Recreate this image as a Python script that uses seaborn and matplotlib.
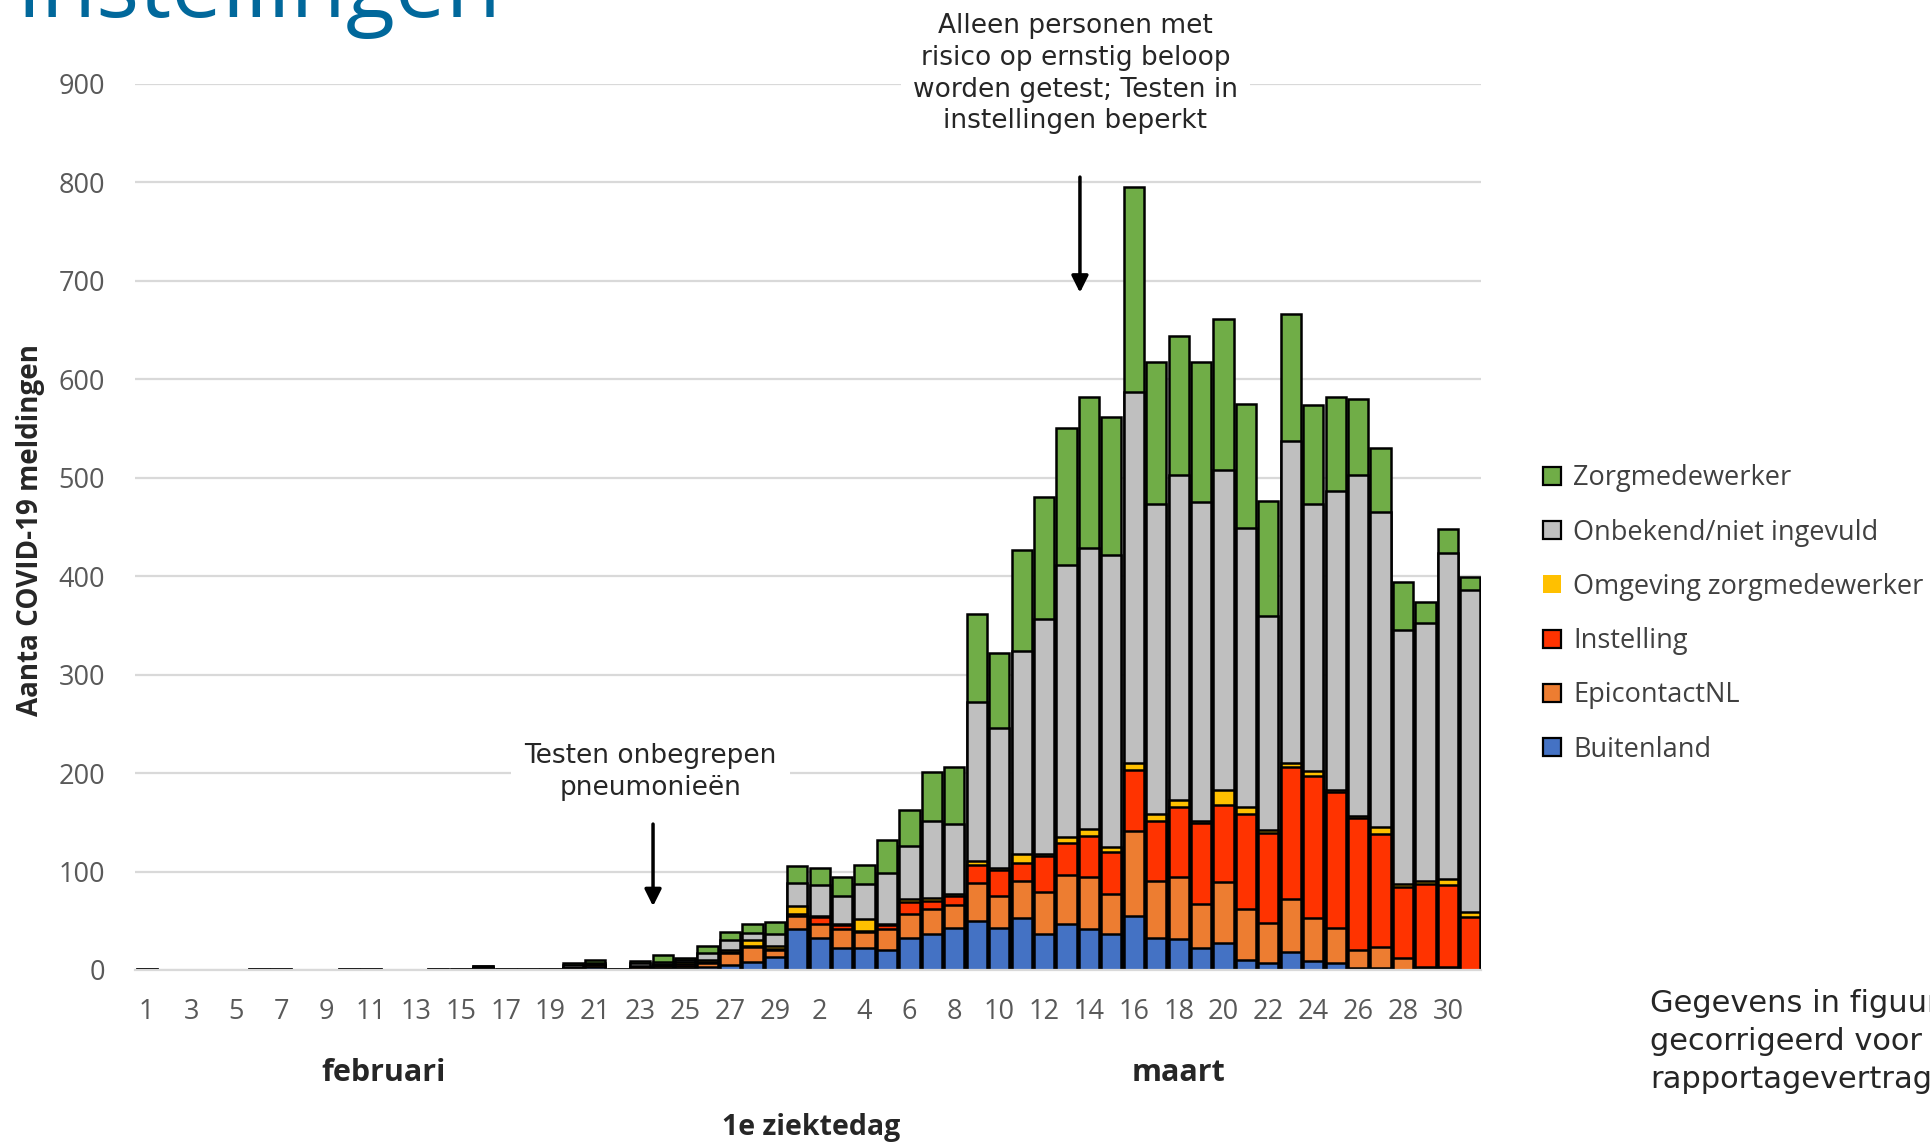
import numpy as np
import pandas as pd
import matplotlib
matplotlib.use("Agg")
import matplotlib.pyplot as plt
import seaborn as sns
from matplotlib.patches import Patch

# ---------------- data ----------------
feb_days = [str(d) for d in range(1, 30)]
mar_days = [str(d) for d in range(1, 32)]
day_labels = feb_days + mar_days

buitenland = [0,0,0,0,0, 0,0,0,0,0, 0,0,0,0,0, 1,0,0,0,0, 3,0,1,2,2, 3,5,8,13,
              42,32,22,22,20, 33,37,43,50,43, 53,37,47,42,37, 55,33,31,22,27,
              10,7,18,9,7, 2,2,0,1,1, 0]
epicontact = [0,0,0,0,0, 0,0,0,0,0, 0,0,0,0,0, 1,0,0,0,2, 2,0,2,2,2, 4,12,15,7,
              13,15,20,17,22, 24,25,23,38,32, 37,42,49,52,40, 86,57,63,45,62,
              52,41,54,44,36, 18,21,12,2,2, 0]
instelling = [0,0,0,0,0, 0,0,0,0,0, 0,0,0,0,0, 0,0,0,0,0, 0,0,0,1,2, 1,1,1,1,
              2,7,4,1,4, 12,8,9,19,27, 19,37,33,42,43, 62,61,72,82,79,
              96,91,134,144,138, 134,115,72,84,83, 54]
omgeving = [0,0,0,0,0, 0,0,0,0,0, 0,0,0,0,0, 0,0,0,0,0, 0,0,1,1,2, 2,2,6,3,
            8,1,1,12,1, 3,3,2,4,2, 9,2,6,7,5, 7,7,7,2,15,
            8,3,4,5,2, 2,7,3,3,6, 5]
onbekend = [1,0,0,0,0, 1,1,0,0,1, 1,0,0,1,1, 2,1,1,1,3, 2,1,3,2,2, 7,10,8,13,
            23,31,28,35,52, 54,78,71,161,142, 206,238,276,286,296, 377,315,330,324,325,
            283,217,327,271,303, 347,320,258,262,331, 327]
zorgmedewerker = [0,0,0,0,0, 0,0,0,0,0, 0,0,0,0,0, 0,0,0,0,2, 3,0,2,7,2, 7,9,9,12,
                  18,18,19,20,33, 36,50,58,90,76, 102,124,139,153,141, 208,144,141,142,153,
                  126,117,129,101,96, 77,65,49,22,25, 13]

series_names = ["Buitenland", "EpicontactNL", "Instelling",
                "Omgeving zorgmedewerker", "Onbekend/niet ingevuld", "Zorgmedewerker"]
series_values = [buitenland, epicontact, instelling, omgeving, onbekend, zorgmedewerker]
series_colors = ["#4472C4", "#ED7D31", "#FF3300", "#FFC000", "#BFBFBF", "#70AD47"]

# ---------------- figure ----------------
W, H = 1931, 1142
fig = plt.figure(figsize=(W / 100, H / 100), dpi=100)
sns.set_style("white")
plt.rcParams["font.family"] = ["Open Sans", "DejaVu Sans"]

def fx(px):
    return px / W

def fy(py):
    return 1 - py / H

ax = fig.add_axes([fx(135.5), fy(970), fx(1481.5) - fx(135.5), fy(83.7) - fy(970)])

df = pd.DataFrame({n: v for n, v in zip(series_names, series_values)})
df["pos"] = np.arange(len(df))
cum = df[series_names].cumsum(axis=1)

# draw cumulative layers from top to bottom (gives a stacked look)
for name, col in reversed(list(zip(series_names, series_colors))):
    sns.barplot(x=df["pos"], y=cum[name], color=col, saturation=1, width=0.9,
                edgecolor="black", linewidth=1.8, errorbar=None, ax=ax)

for p in ax.patches:
    if p.get_height() <= 0:
        p.set_visible(False)

ax.set_xlim(-0.5, len(df) - 0.5)
ax.set_ylim(0, 900)
ax.set_yticks(np.arange(0, 901, 100))
ax.set_axisbelow(True)
ax.yaxis.grid(True, color="#D9D9D9", linewidth=1.6)
ax.xaxis.grid(False)
for s in ["left", "right", "top"]:
    ax.spines[s].set_visible(False)
ax.spines["bottom"].set_color("#D9D9D9")
ax.spines["bottom"].set_linewidth(1.6)

tick_pos = list(range(0, 29, 2)) + list(range(30, 60, 2))
ax.set_xticks(tick_pos)
ax.set_xticklabels([day_labels[i] for i in tick_pos])
ax.set_xticks(np.arange(-0.5, len(df), 1.0), minor=True)
ax.tick_params(axis="x", which="major", length=0, pad=20, labelsize=19.5, labelcolor="#595959")
ax.tick_params(axis="x", which="minor", length=11, width=1.6, color="#D9D9D9")
ax.tick_params(axis="y", length=0, pad=22, labelsize=19.5, labelcolor="#595959")
ax.set_xlabel("")
ax.set_ylabel("")

# annotations
ax.text(41.4, 910, "Alleen personen met\nrisico op ernstig beloop\nworden getest; Testen in\ninstellingen beperkt",
        ha="center", va="center", fontsize=19, family="DejaVu Sans", linespacing=1.28,
        clip_on=False, zorder=5,
        bbox=dict(boxstyle="square,pad=0.45", facecolor="white", edgecolor="none"))
ax.annotate("", xy=(41.6, 685), xytext=(41.6, 808),
            arrowprops=dict(arrowstyle="-|>", color="black", lw=2.5, mutation_scale=25))
ax.text(22.45, 201, "Testen onbegrepen\npneumonieën",
        ha="center", va="center", fontsize=19, family="DejaVu Sans", linespacing=1.28,
        zorder=5, bbox=dict(boxstyle="square,pad=0.5", facecolor="white", edgecolor="none"))
ax.annotate("", xy=(22.57, 62), xytext=(22.57, 151),
            arrowprops=dict(arrowstyle="-|>", color="black", lw=2.5, mutation_scale=25))

# legend
handles = []
for name, col in reversed(list(zip(series_names, series_colors))):
    ec = "none" if name == "Omgeving zorgmedewerker" else "black"
    handles.append(Patch(facecolor=col, edgecolor=ec, linewidth=1.6, label=name))
fig.legend(handles=handles, loc="upper left", bbox_to_anchor=(fx(1519), fy(440)),
           frameon=False, fontsize=19.5, labelspacing=0.97, handlelength=0.65,
           handleheight=0.65, handletextpad=0.45, labelcolor="#404040")

# texts
fig.text(fx(18), fy(17), "instellingen", fontsize=65, color="#01689B", va="baseline", ha="left")
fig.text(fx(31), fy(530), "Aanta COVID-19 meldingen", rotation=90, fontsize=20,
         fontweight="bold", ha="center", va="center")
fig.text(fx(384), fy(1073), "februari", fontsize=22, fontweight="bold", ha="center", va="center")
fig.text(fx(1178.5), fy(1073), "maart", fontsize=22, fontweight="bold", ha="center", va="center")
fig.text(fx(811.5), fy(1127), "1e ziektedag", fontsize=20.5, fontweight="bold", ha="center", va="center")
fig.text(fx(1650), fy(989), "Gegevens in figuur\ngecorrigeerd voor\nrapportagevertraging",
         fontsize=22, family="DejaVu Sans", ha="left", va="top", linespacing=1.4)

fig.savefig("out.png", dpi=100)
